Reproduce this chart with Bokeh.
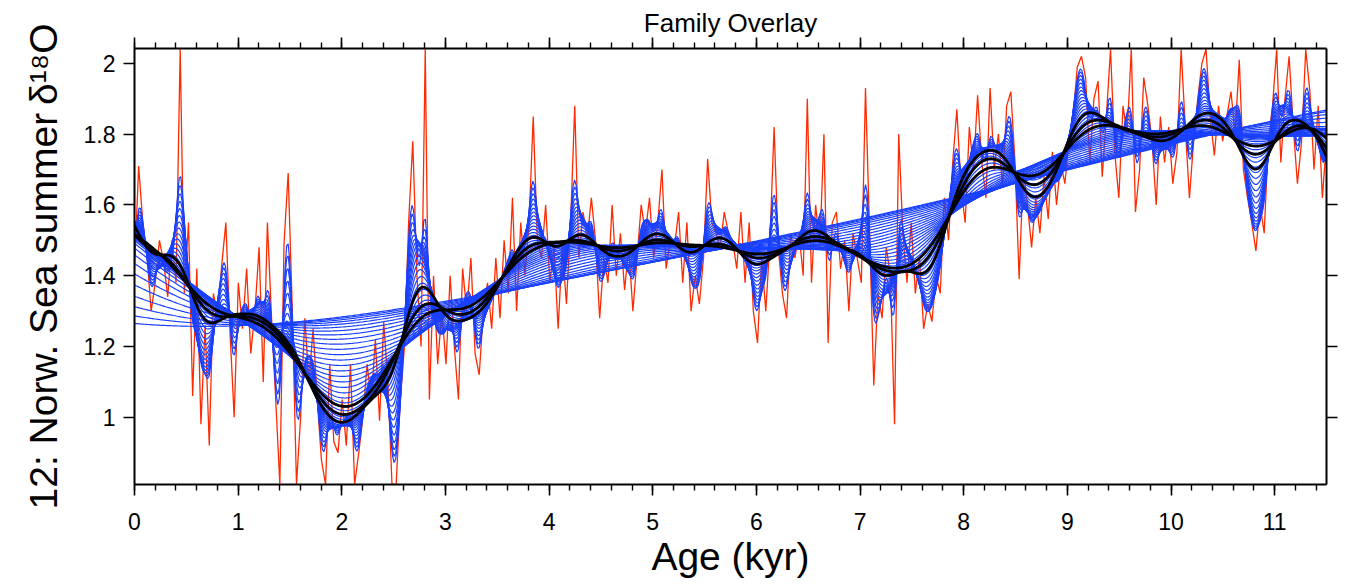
import numpy as np
from bokeh.plotting import figure
from bokeh.models import (ColumnDataSource, LinearAxis, SingleIntervalTicker,
                          FixedTicker, NumeralTickFormatter, Range1d,
                          CustomJSTickFormatter)
from bokeh.embed import file_html
from bokeh.resources import INLINE

# ---- data (delta18O vs age, kyr) ----
d18o_0 = [1.42, 1.71, 1.55, 1.46, 1.30, 1.38, 1.50, 1.44, 1.34, 1.50, 1.38, 2.04, 1.35,
          1.55, 1.06, 1.42, 0.98, 1.26, 0.92, 1.35, 1.28, 1.43, 1.55, 1.24, 1.00]
d18o_1 = [1.38, 1.25, 1.42, 1.18, 1.30, 1.48, 1.10, 1.55, 1.28, 1.05, 0.81, 1.49, 1.69,
          1.30, 0.81, 1.00, 1.28, 1.10, 1.25, 1.05, 0.88, 0.81, 1.15, 0.93, 0.90]
d18o_2 = [1.05, 0.92, 1.15, 0.81, 0.90, 1.00, 1.15, 1.05, 1.22, 0.99, 1.27, 1.10, 0.81,
          0.81, 1.05, 1.20, 1.55, 1.78, 1.40, 1.20, 2.04, 1.05, 1.40, 1.15, 1.30]
d18o_3 = [1.15, 1.40, 1.20, 1.05, 1.42, 1.30, 1.45, 1.18, 1.12, 1.30, 1.38, 1.25, 1.45,
          1.28, 1.50, 1.35, 1.62, 1.30, 1.55, 1.40, 1.55, 1.85, 1.50, 1.45, 1.60]
d18o_4 = [1.38, 1.48, 1.25, 1.48, 1.32, 1.55, 1.88, 1.45, 1.58, 1.50, 1.62, 1.50, 1.28,
          1.45, 1.38, 1.60, 1.40, 1.52, 1.36, 1.48, 1.30, 1.45, 1.60, 1.52, 1.62]
d18o_5 = [1.45, 1.55, 1.70, 1.42, 1.50, 1.48, 1.58, 1.38, 1.55, 1.30, 1.40, 1.32, 1.45,
          1.73, 1.55, 1.52, 1.48, 1.58, 1.52, 1.50, 1.42, 1.58, 1.38, 1.55, 1.30]
d18o_6 = [1.21, 1.45, 1.30, 1.50, 1.82, 1.48, 1.35, 1.28, 1.52, 1.45, 1.52, 1.40, 1.90,
          1.38, 1.60, 1.48, 1.80, 1.21, 1.55, 1.58, 1.42, 1.50, 1.30, 1.52, 1.45]
d18o_7 = [1.38, 1.93, 1.52, 1.09, 1.35, 1.28, 1.48, 1.40, 0.98, 1.80, 1.52, 1.38, 1.55,
          1.35, 1.45, 1.25, 1.32, 1.27, 1.40, 1.35, 1.62, 1.50, 1.72, 1.87, 1.65]
d18o_8 = [1.55, 1.82, 1.70, 1.91, 1.72, 1.62, 1.93, 1.70, 1.80, 1.65, 1.88, 1.92, 1.72,
          1.39, 1.70, 1.60, 1.48, 1.62, 1.52, 1.68, 1.56, 1.75, 1.60, 1.72, 1.66]
d18o_9 = [1.78, 1.85, 1.99, 2.02, 1.96, 1.72, 1.90, 1.95, 1.68, 1.85, 2.04, 1.75, 1.62,
          1.88, 1.80, 2.04, 1.58, 1.70, 1.96, 1.88, 1.78, 1.60, 1.85, 1.72, 1.82]
d18o_10 = [1.66, 1.75, 2.04, 1.82, 1.62, 1.78, 1.90, 2.00, 2.04, 1.85, 1.74, 1.88, 1.78,
           1.85, 1.92, 1.80, 2.01, 1.70, 1.62, 1.55, 1.47, 1.60, 1.52, 1.78, 1.88]
d18o_11 = [2.04, 1.72, 1.90, 2.02, 1.82, 1.66, 1.78, 2.04, 1.92, 1.70, 1.88, 1.62, 1.78]

age_start, age_end = 0.0, 11.5
y_ticks = [1.0, 1.2, 1.4, 1.6, 1.8, 2.0]

# smoothing bandwidths of the family (kyr) and the highlighted ones
family_bandwidths = list(np.geomspace(0.035, 2.5, 41))
highlight_bandwidths = [0.15, 0.21, 0.27]

values = np.array(d18o_0 + d18o_1 + d18o_2 + d18o_3 + d18o_4 + d18o_5 + d18o_6 +
                  d18o_7 + d18o_8 + d18o_9 + d18o_10 + d18o_11)
ages = np.linspace(age_start, age_end, len(values))


def local_linear(xg, x, y, h):
    d = x[None, :] - xg[:, None]
    w = np.exp(-0.5 * (d / h) ** 2)
    s0 = w.sum(1)
    s1 = (w * d).sum(1)
    s2 = (w * d * d).sum(1)
    t0 = (w * y).sum(1)
    t1 = (w * d * y).sum(1)
    return (s2 * t0 - s1 * t1) / (s0 * s2 - s1 ** 2)


grid = np.linspace(age_start, age_end, 800)
fam_xs = [grid.tolist() for _ in family_bandwidths]
fam_ys = [local_linear(grid, ages, values, h).tolist() for h in family_bandwidths]
hl_xs = [grid.tolist() for _ in highlight_bandwidths]
hl_ys = [local_linear(grid, ages, values, h).tolist() for h in highlight_bandwidths]

FONT = "Liberation Sans"

p = figure(width=1345, height=587, output_backend="svg", toolbar_location=None,
           x_range=Range1d(0, 11.5), y_range=Range1d(0.81, 2.042),
           min_border_left=134, min_border_right=19, min_border_top=48,
           min_border_bottom=103, title="Family Overlay")
p.title.text_font = FONT
p.title.text_font_size = "26px"
p.title.text_font_style = "normal"
p.title.text_color = "black"
p.title.align = "center"
p.title.standoff = 0
p.grid.visible = False
p.outline_line_color = None
p.background_fill_color = "white"
p.border_fill_color = "white"

p.line(ages, values, line_color="#ff2a00", line_width=1.3)
p.multi_line(xs="xs", ys="ys", source=ColumnDataSource(dict(xs=fam_xs, ys=fam_ys)),
             line_color="#1a40ff", line_width=1.2)
p.multi_line(xs="xs", ys="ys", source=ColumnDataSource(dict(xs=hl_xs, ys=hl_ys)),
             line_color="black", line_width=2.8)

xb = p.xaxis[0]
yl = p.yaxis[0]
xt = LinearAxis()
yr = LinearAxis()
p.add_layout(xt, "above")
p.add_layout(yr, "right")

for ax in (xb, xt):
    ax.ticker = SingleIntervalTicker(interval=1, num_minor_ticks=5)
for ax in (yl, yr):
    ax.ticker = FixedTicker(ticks=y_ticks)
    ax.minor_tick_line_color = None
for ax in (xb, xt, yl, yr):
    ax.axis_line_width = 2
    ax.axis_line_color = "black"
    ax.major_tick_line_width = 1.6
    ax.minor_tick_line_width = 1.4
    ax.major_tick_in = 0
    ax.major_tick_out = 11
    ax.minor_tick_in = 0
    ax.minor_tick_out = 6
    ax.major_label_text_font = FONT
    ax.major_label_text_font_size = "23px"
    ax.major_label_text_color = "black"
    ax.axis_label_text_font = FONT
    ax.axis_label_text_font_style = "normal"
    ax.axis_label_text_font_size = "39px"
    ax.axis_label_text_color = "black"
for ax in (xt, yr):
    ax.formatter = CustomJSTickFormatter(code="return ''")
    ax.major_label_standoff = 0

yl.formatter = NumeralTickFormatter(format="0.[0]")
xb.major_label_standoff = 17
xb.axis_label = "Age (kyr)"
xb.axis_label_standoff = 2
yl.major_label_standoff = 8
yl.axis_label = "12: Norw. Sea summer\u2009δ¹⁸O"
yl.axis_label_standoff = 16

open("out.html", "w").write(file_html(p, INLINE))
